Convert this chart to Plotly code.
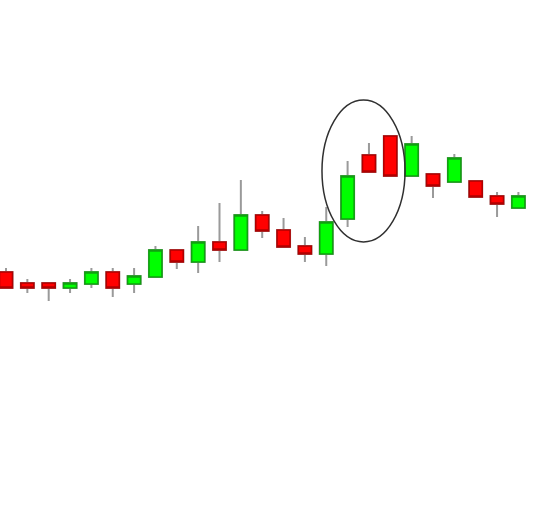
import plotly.graph_objects as go

idx = list(range(25))
opens = [45.6, 43.4, 43.4, 42.4, 43.2, 45.6, 43.2, 44.6, 50.0, 47.6, 51.6, 50.0, 57.0,
         54.0, 50.8, 49.2, 56.2, 69.0, 72.8, 64.8, 65.2, 63.6, 63.8, 60.8, 58.4]
closes = [42.4, 42.4, 42.4, 43.4, 45.6, 42.4, 44.8, 50.0, 47.6, 51.6, 50.0, 57.0, 53.8,
          50.6, 49.2, 55.6, 64.8, 65.6, 64.8, 71.2, 62.8, 68.4, 60.6, 59.2, 60.8]
highs = [46.4, 44.2, 43.4, 44.2, 46.4, 46.4, 46.4, 50.8, 50.0, 54.8, 59.4, 64.0, 57.8,
         56.4, 52.6, 58.6, 67.8, 71.4, 72.8, 72.8, 65.2, 69.2, 63.8, 61.6, 61.6]
lows = [42.4, 41.4, 39.8, 41.4, 42.4, 40.6, 41.4, 44.6, 46.2, 45.4, 47.6, 50.0, 52.4,
        50.6, 47.6, 46.8, 54.6, 65.6, 64.6, 64.8, 60.4, 63.6, 60.6, 56.6, 58.4]

body_hi = [max(o, c) for o, c in zip(opens, closes)]
body_lo = [min(o, c) for o, c in zip(opens, closes)]

fig = go.Figure()
# wicks (gray)
fig.add_trace(go.Candlestick(
    x=idx, open=opens, close=closes, high=highs, low=lows,
    increasing=dict(line=dict(color="#9a9a9a", width=2), fillcolor="#9a9a9a"),
    decreasing=dict(line=dict(color="#9a9a9a", width=2), fillcolor="#9a9a9a"),
    hoverinfo="skip", showlegend=False))
# bodies
fig.add_trace(go.Candlestick(
    x=idx, open=opens, close=closes, high=body_hi, low=body_lo,
    increasing=dict(line=dict(color="#10a010", width=1.6), fillcolor="#00ff00"),
    decreasing=dict(line=dict(color="#b00000", width=1.6), fillcolor="#ff0000"),
    hoverinfo="skip", showlegend=False))

fig.add_shape(type="circle", xref="x", yref="y",
              x0=14.80, x1=18.69, y0=51.6, y1=80.0,
              line=dict(color="#303030", width=1.5))

fig.update_layout(
    width=549, height=508,
    margin=dict(l=0, r=0, t=0, b=0),
    paper_bgcolor="white", plot_bgcolor="white",
    showlegend=False,
    boxgap=0.39, boxgroupgap=0,
    xaxis=dict(range=[-0.281, 25.433], visible=False, showgrid=False,
               rangeslider=dict(visible=False), fixedrange=True),
    yaxis=dict(range=[-1.6, 100], visible=False, showgrid=False, fixedrange=True),
)

fig.write_html("out.html", config={"displayModeBar": False},
               post_script="document.body.style.margin='0';")
